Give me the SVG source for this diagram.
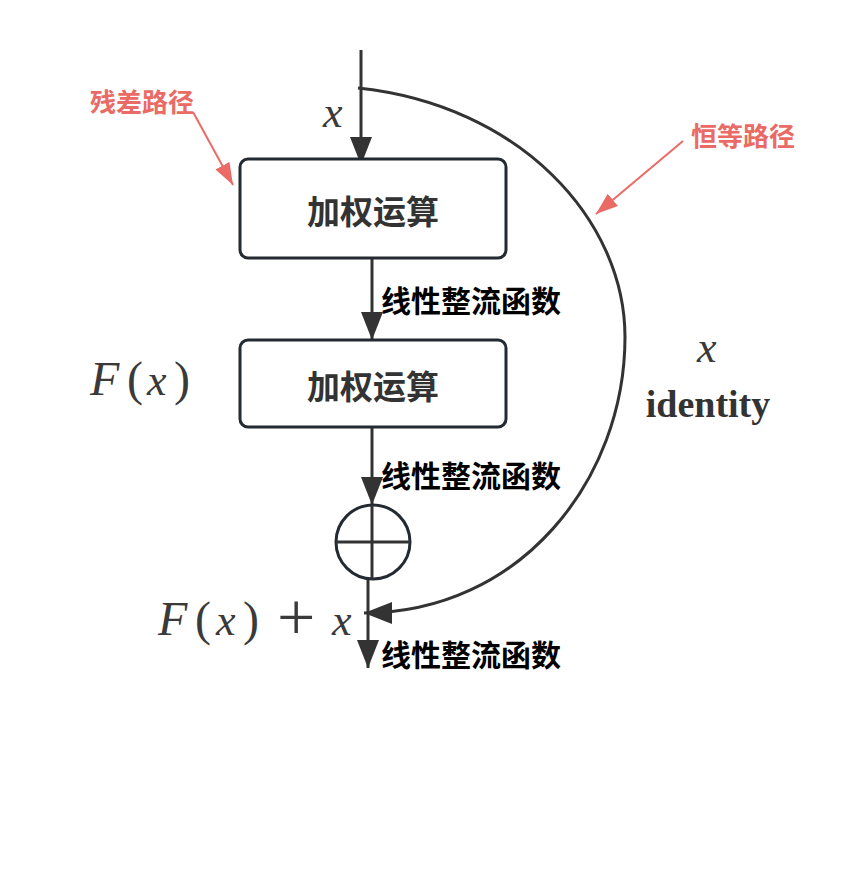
<svg xmlns="http://www.w3.org/2000/svg" width="863" height="895" viewBox="0 0 863 895">
<style>
.box{fill:#fff;stroke:#232a31;stroke-width:3}
.bt{font-family:"Noto Sans CJK SC",sans-serif;font-weight:bold;font-size:33px;fill:#333;text-anchor:middle;dominant-baseline:central}
.lbl{font-family:"Noto Sans CJK SC",sans-serif;font-weight:bold;font-size:30px;fill:#000;dominant-baseline:central}
.red{font-family:"Noto Sans CJK SC",sans-serif;font-weight:bold;font-size:26px;fill:#ea6b66;text-anchor:middle;dominant-baseline:central}
.edge{fill:none;stroke:#333;stroke-width:3}
.rl{fill:none;stroke:#ea6b66;stroke-width:2}
.math{font-family:"Liberation Serif",serif;font-size:48px;fill:#3a3a3a}
.mi{font-style:italic}
.mx{font-style:italic;font-size:44px}
.plus{font-size:68px}
</style>
<defs>
<marker id="ah" markerUnits="userSpaceOnUse" markerWidth="30" markerHeight="24" refX="28" refY="11" orient="auto">
<path d="M0,0 L28,11 L0,22 Z" fill="#333"/>
</marker>
<marker id="rh" markerUnits="userSpaceOnUse" markerWidth="24" markerHeight="18" refX="22" refY="8" orient="auto">
<path d="M0,0 L22,8 L0,16 Z" fill="#ea6b66"/>
</marker>
</defs>
<g id="connectors">
<line class="edge" x1="361" y1="50" x2="361" y2="165" marker-end="url(#ah)"/>
<line class="edge" x1="372" y1="258" x2="372" y2="340" marker-end="url(#ah)"/>
<line class="edge" x1="372" y1="427" x2="372" y2="505" marker-end="url(#ah)"/>
<line class="edge" x1="368" y1="579" x2="368" y2="668" marker-end="url(#ah)"/>
<path class="edge" d="M358,88 C520,105 625,220 625,337 C625,480 520,613 364,613" marker-end="url(#ah)"/>
<line class="rl" x1="193" y1="112" x2="233" y2="185" marker-end="url(#rh)"/>
<line class="rl" x1="683" y1="141" x2="596" y2="214" marker-end="url(#rh)"/>
</g>
<g id="box1">
<rect class="box" x="240" y="159" width="266" height="99" rx="8"/>
<text class="bt" x="373" y="210">加权运算</text>
</g>
<g id="box2">
<rect class="box" x="240" y="340" width="266" height="87" rx="8"/>
<text class="bt" x="373" y="385">加权运算</text>
</g>
<g id="sum">
<circle cx="373" cy="542" r="37" fill="#fff" stroke="#232a31" stroke-width="3"/>
<line x1="336" y1="542" x2="410" y2="542" stroke="#333" stroke-width="3"/>
<line x1="372" y1="505" x2="372" y2="579" stroke="#333" stroke-width="3"/>
</g>
<g id="labels">
<text class="lbl" x="381" y="299">线性整流函数</text>
<text class="lbl" x="381" y="474">线性整流函数</text>
<text class="lbl" x="381" y="653">线性整流函数</text>
<text class="red" x="142" y="100">残差路径</text>
<text class="red" x="743" y="134">恒等路径</text>
<text class="math mx" x="323" y="127">x</text>
<text class="math" y="395"><tspan class="mi" x="90">F</tspan><tspan x="127">(</tspan><tspan class="mx" x="147">x</tspan><tspan x="174">)</tspan></text>
<text class="math" y="635"><tspan class="mi" x="158">F</tspan><tspan x="195">(</tspan><tspan class="mx" x="216">x</tspan><tspan x="243">)</tspan><tspan class="mx" x="332">x</tspan></text>
<text class="math plus" x="277" y="640">+</text>
<text class="math mx" x="697" y="362">x</text>
<text x="708" y="417" text-anchor="middle" font-family="Liberation Serif,serif" font-weight="bold" font-size="38" fill="#333">identity</text>
</g>
</svg>
